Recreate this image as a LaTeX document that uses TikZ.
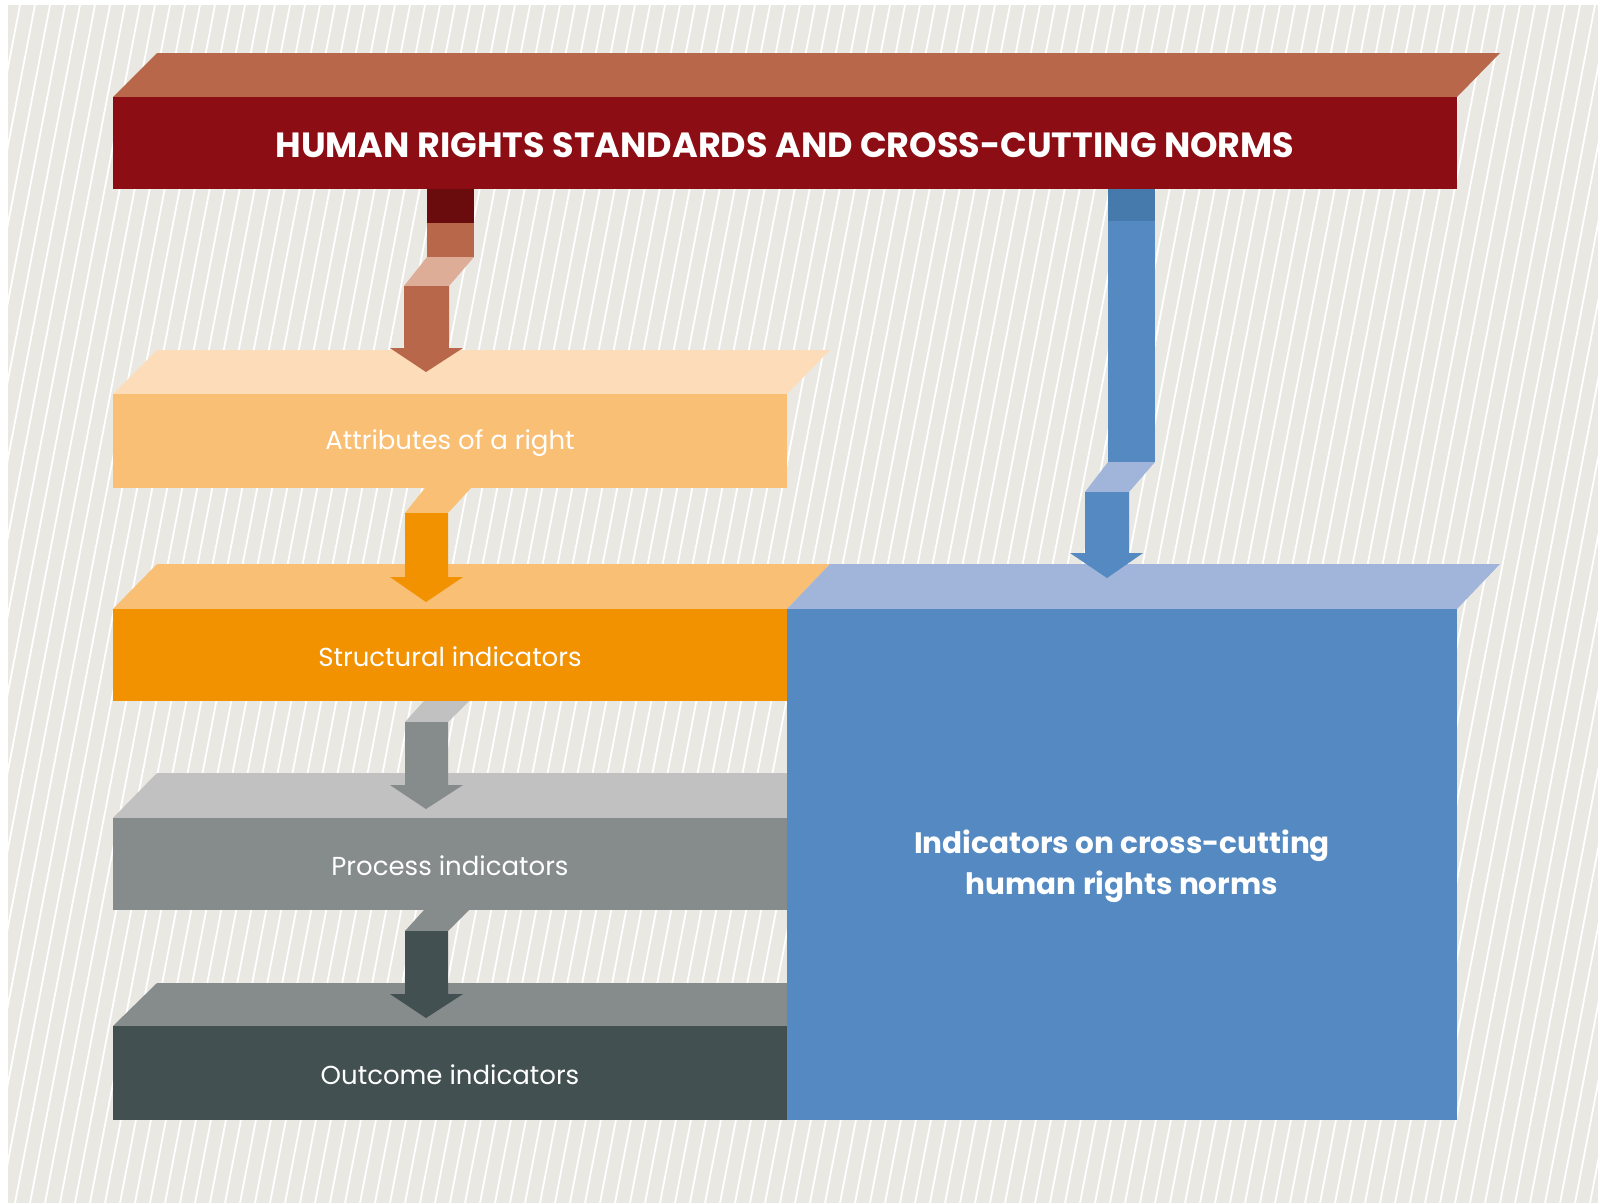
\documentclass[tikz,border=0pt]{standalone}
\usepackage{fontspec}
\setmainfont{Poppins}
\usepackage{tikz}

\definecolor{paper}{HTML}{E9E8E3}
\definecolor{redfront}{HTML}{8C0D13}
\definecolor{redtop}{HTML}{B8674B}
\definecolor{reddark}{HTML}{6A0B0E}
\definecolor{redlight}{HTML}{DEAD98}
\definecolor{attrtop}{HTML}{FDDDB9}
\definecolor{attrfront}{HTML}{F9BF74}
\definecolor{structfront}{HTML}{F39200}
\definecolor{proctop}{HTML}{C0C1C0}
\definecolor{procfront}{HTML}{868B8B}
\definecolor{outfront}{HTML}{425051}
\definecolor{bluefront}{HTML}{5489C2}
\definecolor{bluetop}{HTML}{A1B5DA}
\definecolor{bluedark}{HTML}{4679AC}

\tikzset{
  lbl/.style={text=white, font=\fontsize{26}{30}\selectfont},
  head/.style={text=white, font=\bfseries\fontsize{35}{40}\selectfont},
  bluelbl/.style={text=white, align=center, font=\bfseries\fontsize{29.5}{41}\selectfont}
}

\begin{document}
\begin{tikzpicture}[x=1pt,y=-1pt]
\useasboundingbox (0,0) rectangle (1598,1203);
\fill[white] (0,0) rectangle (1598,1203);
\fill[paper] (8,5) rectangle (1598,1203);
\begin{scope}
\clip (8,5) rectangle (1598,1203);
\foreach \i in {-20,...,110}
  \draw[white, line width=1.8pt] (\i*15,1203) -- ++(230,-1198); % stripes
\end{scope}

% banner
\fill[redtop] (113,97) -- (157,53) -- (1500,53) -- (1457,97) -- cycle;
\fill[redfront] (113,97) rectangle (1457,189);

% the four blocks on the left
\fill[attrtop] (113,394) -- (157,350) -- (830,350) -- (787,394) -- cycle;
\fill[attrfront] (113,394) rectangle (787,488);
\fill[attrfront] (113,609) -- (157,564) -- (830,564) -- (787,609) -- cycle;
\fill[structfront] (113,609) rectangle (787,701);
\fill[proctop] (113,818) -- (157,773) -- (787,773) -- (787,818) -- cycle;
\fill[procfront] (113,818) rectangle (787,910);
\fill[procfront] (113,1026) -- (157,983) -- (787,983) -- (787,1026) -- cycle;
\fill[outfront] (113,1026) rectangle (787,1120);

% blue block
\fill[bluetop] (787,609) -- (830,564) -- (1500,564) -- (1457,609) -- cycle;
\fill[bluefront] (787,609) rectangle (1457,1120);

% arrow banner -> attributes
\fill[reddark] (427,189) rectangle (474,223);
\fill[redtop] (427,223) rectangle (474,257);
\fill[redlight] (427,257) -- (474,257) -- (449,286) -- (404,286) -- cycle;
\fill[redtop] (404,286) -- (449,286) -- (449,348) -- (463,348) -- (426,372)
  -- (390,348) -- (404,348) -- cycle;

% arrow attributes -> structural
\fill[attrfront] (425,488) -- (471,488) -- (448,513) -- (405,513) -- cycle;
\fill[structfront] (405,513) -- (448,513) -- (448,577) -- (463,577) -- (426,602)
  -- (390,577) -- (405,577) -- cycle;

% arrow structural -> process
\fill[proctop] (424,701) -- (469,701) -- (448,722) -- (405,722) -- cycle;
\fill[procfront] (405,722) -- (448,722) -- (448,785) -- (463,785) -- (426,809)
  -- (390,785) -- (405,785) -- cycle;

% arrow process -> outcome
\fill[procfront] (424,910) -- (469,910) -- (448,931) -- (405,931) -- cycle;
\fill[outfront] (405,931) -- (448,931) -- (448,994) -- (463,994) -- (426,1018)
  -- (390,994) -- (405,994) -- cycle;

% arrow banner -> blue block
\fill[bluedark] (1108,189) rectangle (1155,221);
\fill[bluefront] (1108,221) rectangle (1155,462);
\fill[bluetop] (1108,462) -- (1155,462) -- (1129,492) -- (1085,492) -- cycle;
\fill[bluefront] (1085,492) -- (1129,492) -- (1129,553) -- (1143,553) -- (1107,578)
  -- (1070,553) -- (1085,553) -- cycle;

% texts
\node[head] (norms) at (785,145) {HUMAN RIGHTS STANDARDS AND CROSS-CUTTING NORMS};
\node[lbl] (attr) at (450,443) {Attributes of a right};
\node[lbl] (struct) at (450,657) {Structural indicators};
\node[lbl] (proc) at (450,866) {Process indicators};
\node[lbl] (outc) at (450,1075) {Outcome indicators};
\node[bluelbl] (cross) at (1122,866) {Indicators on cross-cutting\\human rights norms};
\end{tikzpicture}
\end{document}
